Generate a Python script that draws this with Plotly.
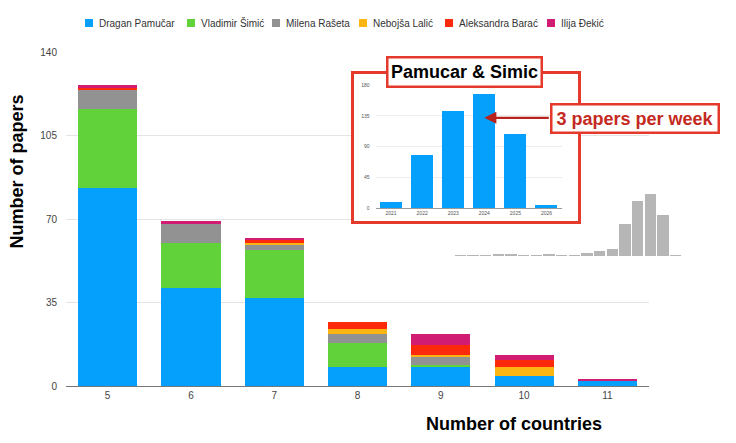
import plotly.graph_objects as go

# main chart: papers by number of co-author countries
countries = ["5", "6", "7", "8", "9", "10", "11"]
authors = ["Dragan Pamučar", "Vladimir Šimić", "Milena Rašeta",
           "Nebojša Lalić", "Aleksandra Barać", "Ilija Đekić"]
pamucar = [83, 41, 37, 8, 8, 4, 2]
simic = [33, 19, 20, 10, 1, 0, 0]
raseta = [8, 8, 2, 4, 3, 0, 0]
lalic = [0, 0, 1, 2, 1, 4, 0]
barac = [1, 0, 1, 3, 4, 3, 0]
djekic = [1, 1, 1, 0, 5, 2, 1]
colors = ["#04A0FC", "#62D23A", "#929292", "#FCB614", "#FC2A0A", "#D01C72"]

# inset: Pamucar & Simic per year
years = ["2021", "2022", "2023", "2024", "2025", "2026"]
per_year = [9, 78, 142, 167, 108, 5]

# small grey histogram on the right
hist_bins = list(range(1, 19))
hist_vals = [0.5, 0.5, 2, 4, 4, 2, 3, 5, 2, 3, 10, 16, 21, 95, 165, 186, 124, 3]

FONT = "Liberation Sans, Arial, sans-serif"
PAGE_PAD = 8                      # browser body margin around the figure
W, H = 630, 334                   # plot area size in px
L, T = 66 - PAGE_PAD, 52 - PAGE_PAD
FIG_W, FIG_H = 736 - PAGE_PAD, 443 - PAGE_PAD


def px_x(px):
    # screen px -> paper fraction
    return (px - PAGE_PAD - L) / W


def px_y(py):
    return (T + H + PAGE_PAD - py) / H


fig = go.Figure()

for name, vals, col in zip(authors, [pamucar, simic, raseta, lalic, barac, djekic], colors):
    fig.add_trace(go.Bar(x=countries, y=vals, name=name, marker_color=col,
                         marker_line_width=0, xaxis="x", yaxis="y"))

# grey histogram (subplot 2, drawn first so the inset box sits over it)
fig.add_trace(go.Bar(x=hist_bins, y=hist_vals, marker_color="#B6B6B6", marker_line_width=0,
                     xaxis="x2", yaxis="y2", width=0.92))

# empty trace so the framed white box subplot exists
fig.add_trace(go.Scatter(x=[], y=[], xaxis="x3", yaxis="y3", hoverinfo="skip"))

fig.add_trace(go.Bar(x=years, y=per_year, marker_color=colors[0], marker_line_width=0,
                     xaxis="x4", yaxis="y4"))

fig.update_layout(
    width=FIG_W, height=FIG_H,
    margin=dict(l=L, r=FIG_W - L - W, t=T, b=FIG_H - T - H),
    paper_bgcolor="white", plot_bgcolor="white",
    barmode="stack", bargap=0.29,
    font=dict(family=FONT, size=10, color="#444"),
    showlegend=False,
    xaxis=dict(domain=[0, px_x(649)], showgrid=False, showline=True, linecolor="#777",
               linewidth=1, ticks="", type="category",
               tickfont=dict(size=10, color="#444")),
    yaxis=dict(range=[0, 140], tickvals=[0, 35, 70, 105, 140], showgrid=True,
               gridcolor="#E4E4E4", zeroline=False, showline=False,
               ticklabelstandoff=8, tickfont=dict(size=10, color="#444")),
    xaxis2=dict(domain=[px_x(454), px_x(682)], anchor="y2", range=[0.5, 18.5],
                visible=False),
    yaxis2=dict(domain=[px_y(256), px_y(194)], anchor="x2", range=[0, 186], visible=False),
    # white box behind the inset, its axis lines draw the red frame
    xaxis3=dict(domain=[px_x(353.5), px_x(578)], anchor="y3", range=[0, 1], showgrid=False,
                zeroline=False, showticklabels=False, ticks="", showline=True,
                mirror=True, linecolor="#E5392C", linewidth=2.5),
    yaxis3=dict(domain=[px_y(221), px_y(74)], anchor="x3", range=[0, 1], showgrid=False,
                zeroline=False, showticklabels=False, ticks="", showline=True,
                mirror=True, linecolor="#E5392C", linewidth=2.5),
    xaxis4=dict(domain=[px_x(375.5), px_x(562)], anchor="y4", type="category",
                range=[-0.5, len(years) - 0.5],
                showgrid=False, showline=True, linecolor="#999", linewidth=0.8, ticks="",
                tickfont=dict(size=5, color="#555")),
    yaxis4=dict(domain=[px_y(208), px_y(85)], anchor="x4", range=[0, 180],
                tickvals=[0, 45, 90, 135, 180], gridcolor="#EDEDED", gridwidth=0.6,
                zeroline=False, ticklabelstandoff=5, tickfont=dict(size=5, color="#555")),
)

# legend drawn by hand to match the tight spacing of the original
legend_left = [85, 187, 272, 359, 445, 547]
for name, col, lx in zip(authors, colors, legend_left):
    fig.add_shape(type="rect", xref="paper", yref="paper", layer="above",
                  x0=px_x(lx), x1=px_x(lx + 8), y0=px_y(27), y1=px_y(19),
                  fillcolor=col, line_width=0)
    fig.add_annotation(text=name, xref="paper", yref="paper", x=px_x(lx + 12), y=px_y(23),
                       xanchor="left", yanchor="middle", showarrow=False,
                       font=dict(size=10, color="#333", family=FONT))

fig.add_annotation(text="<b>Number of papers</b>", xref="paper", yref="paper",
                   x=px_x(16), y=px_y(171.5), xanchor="center", yanchor="middle",
                   textangle=-90, showarrow=False,
                   font=dict(size=18, color="black", family=FONT))
fig.add_annotation(text="<b>Number of countries</b>", xref="paper", yref="paper",
                   x=px_x(513.7), y=px_y(424), xanchor="center", yanchor="middle",
                   showarrow=False, font=dict(size=18, color="black", family=FONT))

# arrow pointing at the 2024 bar (category axes want the category index)
fig.add_annotation(text="", xref="x4", yref="y4", x=years.index("2024"), y=132,
                   ax=66, ay=0, showarrow=True, arrowhead=2, arrowsize=1.1,
                   arrowwidth=2.2, arrowcolor="#B8221C")
fig.add_annotation(text="<b>Pamucar & Simic</b>", xref="paper", yref="paper",
                   x=px_x(464.7), y=px_y(71.7), xanchor="center", yanchor="middle",
                   showarrow=False, width=150, height=25,
                   bgcolor="white", bordercolor="#E5392C", borderwidth=2.5, borderpad=1,
                   font=dict(size=18, color="black", family=FONT))
fig.add_annotation(text="<b>3 papers per week</b>", xref="paper", yref="paper",
                   x=px_x(635), y=px_y(118), xanchor="center", yanchor="middle",
                   showarrow=False, width=163, height=24,
                   bgcolor="white", bordercolor="#E5392C", borderwidth=2.5, borderpad=1,
                   font=dict(size=18, color="#C42A22", family=FONT))

fig.write_html("out.html")
